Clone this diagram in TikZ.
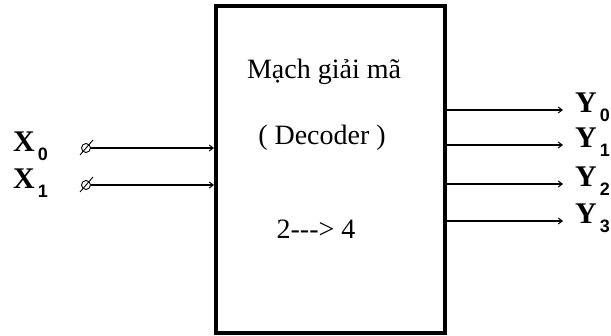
\documentclass[tikz,border=0pt]{standalone}
\usepackage{fontspec}
\setmainfont{Liberation Serif}
\newfontfamily\subsans{Liberation Sans}
\usetikzlibrary{arrows.meta}
\begin{document}
\begin{tikzpicture}[x=1pt,y=-1pt,
  boxtext/.style={font=\fontsize{28}{30}\selectfont, anchor=base, inner sep=0},
  iolabel/.style={font=\fontsize{30}{32}\selectfont\bfseries, anchor=base west, inner sep=0},
  wire/.style={line width=1.1pt, -{Straight Barb[length=4pt,width=6pt,line width=1pt]}},
  terminal/.style={circle, draw, line width=0.9pt, minimum size=9pt, inner sep=0}]
\useasboundingbox (0,0) rectangle (611,336);
\newcommand{\ioname}[2]{#1\hspace{3pt}\raisebox{-9pt}{\subsans\bfseries\fontsize{18}{18}\selectfont #2}}
% main box
\node[draw, line width=4pt, minimum width=229pt, minimum height=327pt, inner sep=0] (box) at (330.5,169.5) {};
\node[boxtext] (t1) at (324,79) {Mạch giải mã};
\node[boxtext] (t2) at (322,145) {( Decoder )};
\node[boxtext] (t3) at (316,239) {2-{}-{}-> 4};
% inputs
\node[iolabel] (x0) at (13,152) {\ioname{X}{0}};
\node[iolabel] (x1) at (13,189) {\ioname{X}{1}};
\node[terminal] (c0) at (86,148) {};
\node[terminal] (c1) at (86,185) {};
\draw[line width=0.9pt] (80,155) -- (93,140);
\draw[line width=0.9pt] (80,192) -- (93,177);
\draw[wire] (c0.east) -- (box.west |- c0);
\draw[wire] (c1.east) -- (box.west |- c1);
% outputs
\coordinate (e0) at (563,110);
\coordinate (e1) at (563,145);
\coordinate (e2) at (563,184);
\coordinate (e3) at (563,221);
\draw[wire] (box.east |- e0) -- (e0);
\draw[wire] (box.east |- e1) -- (e1);
\draw[wire] (box.east |- e2) -- (e2);
\draw[wire] (box.east |- e3) -- (e3);
\node[iolabel] (y0) at (575,113) {\ioname{Y}{0}};
\node[iolabel] (y1) at (575,148) {\ioname{Y}{1}};
\node[iolabel] (y2) at (575,187) {\ioname{Y}{2}};
\node[iolabel] (y3) at (575,224) {\ioname{Y}{3}};
\end{tikzpicture}
\end{document}
